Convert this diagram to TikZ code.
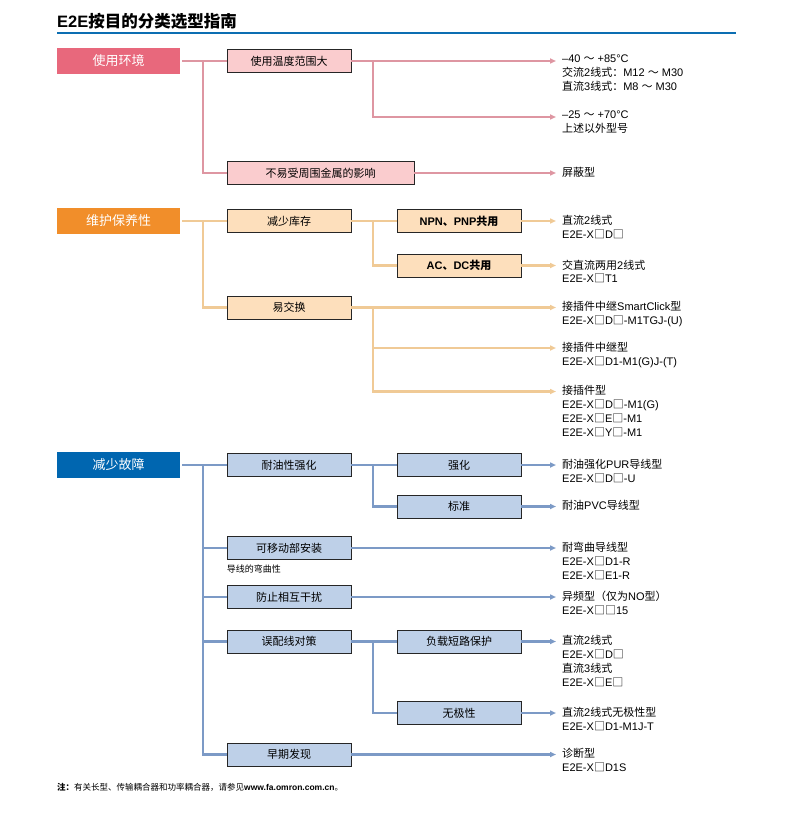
\documentclass[tikz,border=0pt]{standalone}
\usepackage{fontspec}
\setmainfont{Liberation Sans}
\newfontfamily\cjk{Noto Sans CJK SC}
\usetikzlibrary{arrows.meta}
\newcommand\zh[1]{{\cjk #1}}
\newcommand\sq{\zh{□}}
\definecolor{catpink}{RGB}{232,104,124}
\definecolor{subpink}{RGB}{250,204,206}
\definecolor{linepink}{RGB}{222,150,162}
\definecolor{catorange}{RGB}{241,142,42}
\definecolor{suborange}{RGB}{253,223,188}
\definecolor{lineorange}{RGB}{240,202,150}
\definecolor{catblue}{RGB}{0,102,176}
\definecolor{subblue}{RGB}{190,208,232}
\definecolor{lineblue}{RGB}{124,154,198}
\definecolor{titleblue}{RGB}{12,110,178}
\tikzset{
  catbox/.style={minimum width=123pt, minimum height=26pt, inner sep=0pt, text=white,
    font=\fontsize{13}{15}\selectfont},
  subbox/.style={draw=black!85, line width=0.8pt, minimum width=124pt, minimum height=23pt,
    inner sep=0pt, font=\fontsize{11}{13}\selectfont},
  outtext/.style={anchor=north west, inner sep=0pt, align=left, xshift=6pt, yshift=6pt,
    font=\fontsize{11}{13.8}\selectfont},
  tip/.style={-{Triangle[length=6pt,width=5pt]}}
}
\begin{document}
\begin{tikzpicture}[x=1pt,y=-1pt]
  \useasboundingbox (0,0) rectangle (792,813);
  \node[anchor=base west, inner sep=0pt, font=\fontsize{16.5}{18}\selectfont\bfseries] (title) at (57,28)
    {E2E\zh{按目的分类选型指南}};
  \draw[titleblue, line width=2.5pt] (57,33) -- (736,33);
  \coordinate (t1) at (203,0);
  \coordinate (s1) at (373,0);

  \node[catbox, fill=catpink] (env) at (118.5,61) {\zh{使用环境}};
  \node[subbox, fill=subpink] (temp) at (289,61) {\zh{使用温度范围大}};
  \node[subbox, fill=subpink, minimum width=187pt] (metal) at (320.5,173) {\zh{不易受周围金属的影响}};
  \coordinate (r1) at (556,61);
  \coordinate (r2) at (556,117);
  \coordinate (r3) at (556,173);
  \node[outtext] (o1) at (r1) {–40 \zh{～} +85°C\\\zh{交流}2\zh{线式：}M12 \zh{～} M30\\\zh{直流}3\zh{线式：}M8 \zh{～} M30};
  \node[outtext] (o2) at (r2) {–25 \zh{～} +70°C\\\zh{上述以外型号}};
  \node[outtext] (o3) at (r3) {\zh{屏蔽型}};
  \begin{scope}[draw=linepink, line width=2.8pt]
    \draw[shorten <=2pt] (env.east) -- (temp.west);
    \draw (temp.west -| t1) |- (metal.west);
    \draw[tip] (temp.east) -- (r1);
    \draw[tip] (temp.east -| s1) |- (r2);
    \draw[tip] (metal.east) -- (r3);
  \end{scope}

  \node[catbox, fill=catorange] (care) at (118.5,221) {\zh{维护保养性}};
  \node[subbox, fill=suborange] (stock) at (289,221) {\zh{减少库存}};
  \node[subbox, fill=suborange, font=\fontsize{11}{13}\selectfont\bfseries] (npn) at (459,221) {NPN\zh{、}PNP\zh{共用}};
  \node[subbox, fill=suborange, font=\fontsize{11}{13}\selectfont\bfseries] (acdc) at (459,265.5) {AC\zh{、}DC\zh{共用}};
  \node[subbox, fill=suborange] (swap) at (289,307.5) {\zh{易交换}};
  \coordinate (r4) at (556,221);
  \coordinate (r5) at (556,265.5);
  \coordinate (r6) at (556,307.5);
  \coordinate (r7) at (556,348);
  \coordinate (r8) at (556,391.5);
  \node[outtext] (o4) at (r4) {\zh{直流}2\zh{线式}\\E2E-X\sq D\sq};
  \node[outtext] (o5) at (r5) {\zh{交直流两用}2\zh{线式}\\E2E-X\sq T1};
  \node[outtext] (o6) at (r6) {\zh{接插件中继}SmartClick\zh{型}\\E2E-X\sq D\sq -M1TGJ-(U)};
  \node[outtext] (o7) at (r7) {\zh{接插件中继型}\\E2E-X\sq D1-M1(G)J-(T)};
  \node[outtext] (o8) at (r8) {\zh{接插件型}\\E2E-X\sq D\sq -M1(G)\\E2E-X\sq E\sq -M1\\E2E-X\sq Y\sq -M1};
  \begin{scope}[draw=lineorange, line width=2.8pt]
    \draw[shorten <=2pt] (care.east) -- (stock.west);
    \draw (stock.west -| t1) |- (swap.west);
    \draw (stock.east) -- (npn.west);
    \draw (stock.east -| s1) |- (acdc.west);
    \draw[tip] (npn.east) -- (r4);
    \draw[tip] (acdc.east) -- (r5);
    \draw[tip] (swap.east) -- (r6);
    \draw[tip] (swap.east -| s1) |- (r7);
    \draw[tip] (swap.east -| s1) |- (r8);
  \end{scope}

  \node[catbox, fill=catblue] (fail) at (118.5,465) {\zh{减少故障}};
  \node[subbox, fill=subblue] (oil) at (289,465) {\zh{耐油性强化}};
  \node[subbox, fill=subblue] (strong) at (459,465) {\zh{强化}};
  \node[subbox, fill=subblue] (std) at (459,506.5) {\zh{标准}};
  \node[subbox, fill=subblue] (move) at (289,548) {\zh{可移动部安装}};
  \node[anchor=north west, inner sep=0pt, font=\fontsize{9}{11}\selectfont] (bend) at ([yshift=-5pt]move.south west) {\zh{导线的弯曲性}};
  \node[subbox, fill=subblue] (noise) at (289,597) {\zh{防止相互干扰}};
  \node[subbox, fill=subblue] (wire) at (289,641.5) {\zh{误配线对策}};
  \node[subbox, fill=subblue] (short) at (459,641.5) {\zh{负载短路保护}};
  \node[subbox, fill=subblue] (nopol) at (459,713) {\zh{无极性}};
  \node[subbox, fill=subblue] (early) at (289,754.5) {\zh{早期发现}};
  \coordinate (r9) at (556,465);
  \coordinate (r10) at (556,506.5);
  \coordinate (r11) at (556,548);
  \coordinate (r12) at (556,597);
  \coordinate (r13) at (556,641.5);
  \coordinate (r14) at (556,713);
  \coordinate (r15) at (556,754.5);
  \node[outtext] (o9) at (r9) {\zh{耐油强化}PUR\zh{导线型}\\E2E-X\sq D\sq -U};
  \node[outtext] (o10) at (r10) {\zh{耐油}PVC\zh{导线型}};
  \node[outtext] (o11) at (r11) {\zh{耐弯曲导线型}\\E2E-X\sq D1-R\\E2E-X\sq E1-R};
  \node[outtext] (o12) at (r12) {\zh{异频型（仅为}NO\zh{型）}\\E2E-X\sq\sq 15};
  \node[outtext] (o13) at (r13) {\zh{直流}2\zh{线式}\\E2E-X\sq D\sq\\\zh{直流}3\zh{线式}\\E2E-X\sq E\sq};
  \node[outtext] (o14) at (r14) {\zh{直流}2\zh{线式无极性型}\\E2E-X\sq D1-M1J-T};
  \node[outtext] (o15) at (r15) {\zh{诊断型}\\E2E-X\sq D1S};
  \begin{scope}[draw=lineblue, line width=2.8pt]
    \draw[shorten <=2pt] (fail.east) -- (oil.west);
    \draw (oil.west -| t1) |- (early.west);
    \draw (move.west -| t1) -- (move.west);
    \draw (noise.west -| t1) -- (noise.west);
    \draw (wire.west -| t1) -- (wire.west);
    \draw (oil.east) -- (strong.west);
    \draw (oil.east -| s1) |- (std.west);
    \draw (wire.east) -- (short.west);
    \draw (wire.east -| s1) |- (nopol.west);
    \draw[tip] (strong.east) -- (r9);
    \draw[tip] (std.east) -- (r10);
    \draw[tip] (move.east) -- (r11);
    \draw[tip] (noise.east) -- (r12);
    \draw[tip] (short.east) -- (r13);
    \draw[tip] (nopol.east) -- (r14);
    \draw[tip] (early.east) -- (r15);
  \end{scope}

  \node[anchor=base west, inner sep=0pt, font=\fontsize{8.5}{10}\selectfont] (note) at (57,790)
    {\textbf{\zh{注：}}\zh{有关长型、传输耦合器和功率耦合器，请参见}\textbf{www.fa.omron.com.cn}\zh{。}};
\end{tikzpicture}
\end{document}
